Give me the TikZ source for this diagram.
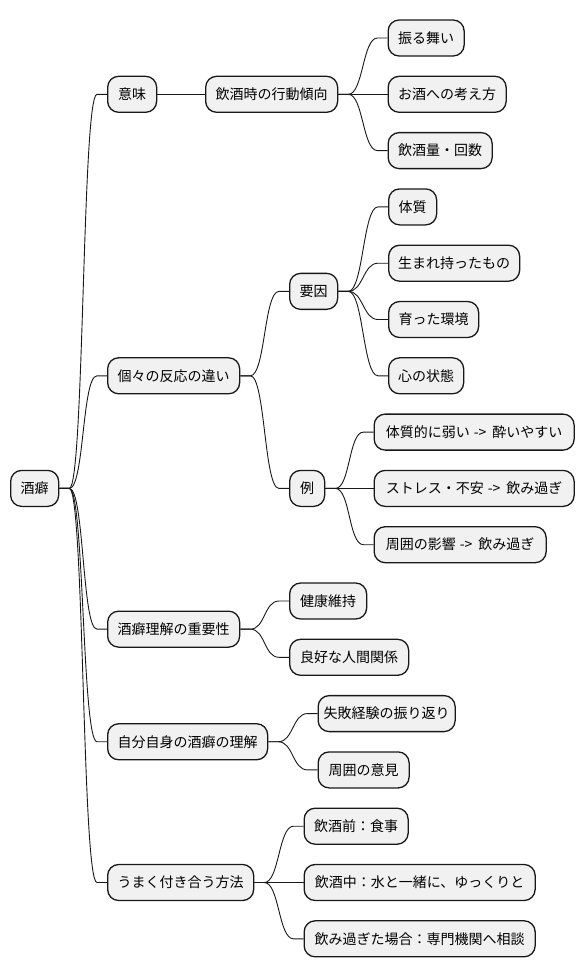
\documentclass[tikz,border=0pt]{standalone}
\usepackage{fontspec}
\setmainfont{Noto Sans CJK JP}
\usetikzlibrary{calc}
\definecolor{boxfill}{HTML}{F1F1F1}
\definecolor{boxline}{HTML}{181818}
\tikzset{
  mmbox/.style={draw=boxline, fill=boxfill, line width=1.3pt, rounded corners=11pt,
    minimum height=36pt, inner sep=0pt, anchor=west, align=center,
    font=\fontsize{14pt}{16pt}\selectfont, text=black},
  mmconn/.style={draw=boxline, line width=0.9pt}
}
\newcommand\mmlink[2]{\draw[mmconn] (#1.east) -- ($(#1.east)+(10,0)$)
  .. controls ($(#1.east)+(25,0)$) and ($(#2.west)+(-25,0)$) .. ($(#2.west)+(-10,0)$) -- (#2.west);}
\newcommand\mmarrow{\hspace{4pt}->\hspace{6pt}}
\begin{document}
\begin{tikzpicture}[x=1pt,y=-1pt]
\useasboundingbox (0,0) rectangle (584,978);
% root
\node[mmbox, minimum width=48pt] (root) at (10,488.4) {酒癖};
% branch 1
\node[mmbox, minimum width=49pt] (imi) at (107,94.3) {意味};
\node[mmbox, minimum width=132pt] (inshu) at (205,94.3) {飲酒時の行動傾向};
\node[mmbox, minimum width=76pt] (furu) at (387.5,38) {振る舞い};
\node[mmbox, minimum width=118pt] (kanga) at (387.5,94.3) {お酒への考え方};
\node[mmbox, minimum width=104pt] (ryo) at (387.5,150.6) {飲酒量・回数};
% branch 2
\node[mmbox, minimum width=132pt] (koko) at (107,375.8) {個々の反応の違い};
\node[mmbox, minimum width=48pt] (yoin) at (289,291.35) {要因};
\node[mmbox, minimum width=48pt] (taishitsu) at (388,206.9) {体質};
\node[mmbox, minimum width=131pt] (umare) at (388,263.2) {生まれ持ったもの};
\node[mmbox, minimum width=90pt] (sodatta) at (388,319.5) {育った環境};
\node[mmbox, minimum width=75pt] (kokoro) at (388,375.8) {心の状態};
\node[mmbox, minimum width=35pt] (rei) at (289,488.4) {例};
\node[mmbox, minimum width=200pt] (yowai) at (373.5,432.1) {体質的に弱い\mmarrow 酔いやすい};
\node[mmbox, minimum width=200pt] (stress) at (373.5,488.4) {ストレス・不安\mmarrow 飲み過ぎ};
\node[mmbox, minimum width=172pt] (eikyo) at (373.5,544.7) {周囲の影響\mmarrow 飲み過ぎ};
% branch 3
\node[mmbox, minimum width=132pt] (juyo) at (107,629.15) {酒癖理解の重要性};
\node[mmbox, minimum width=77pt] (kenko) at (289,601) {健康維持};
\node[mmbox, minimum width=119pt] (ningen) at (289,657.3) {良好な人間関係};
% branch 4
\node[mmbox, minimum width=160pt] (jibun) at (107,741.75) {自分自身の酒癖の理解};
\node[mmbox, minimum width=137pt] (shippai) at (317.5,713.6) {失敗経験の振り返り};
\node[mmbox, minimum width=91pt] (iken) at (317.5,769.9) {周囲の意見};
% branch 5
\node[mmbox, minimum width=146pt] (umaku) at (107,882.5) {うまく付き合う方法};
\node[mmbox, minimum width=104pt] (mae) at (303.5,826.2) {飲酒前：食事};
\node[mmbox, minimum width=231pt] (naka) at (303.5,882.5) {飲酒中：水と一緒に、ゆっくりと};
\node[mmbox, minimum width=231pt] (sugi) at (303.5,938.8) {飲み過ぎた場合：専門機関へ相談};
% connectors
\mmlink{root}{imi}
\mmlink{root}{koko}
\mmlink{root}{juyo}
\mmlink{root}{jibun}
\mmlink{root}{umaku}
\mmlink{imi}{inshu}
\mmlink{inshu}{furu}
\mmlink{inshu}{kanga}
\mmlink{inshu}{ryo}
\mmlink{koko}{yoin}
\mmlink{koko}{rei}
\mmlink{yoin}{taishitsu}
\mmlink{yoin}{umare}
\mmlink{yoin}{sodatta}
\mmlink{yoin}{kokoro}
\mmlink{rei}{yowai}
\mmlink{rei}{stress}
\mmlink{rei}{eikyo}
\mmlink{juyo}{kenko}
\mmlink{juyo}{ningen}
\mmlink{jibun}{shippai}
\mmlink{jibun}{iken}
\mmlink{umaku}{mae}
\mmlink{umaku}{naka}
\mmlink{umaku}{sugi}
\end{tikzpicture}
\end{document}
